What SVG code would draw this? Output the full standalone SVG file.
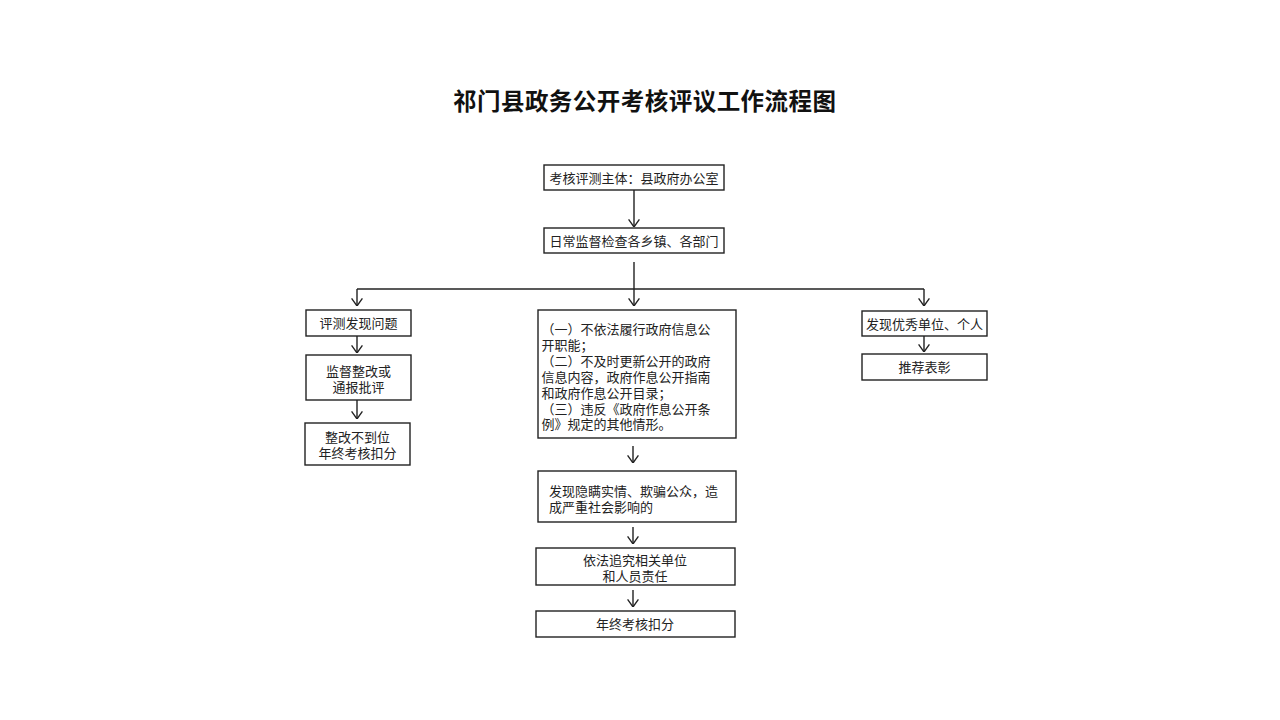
<svg xmlns="http://www.w3.org/2000/svg" width="1280" height="720" viewBox="0 0 1280 720">
<defs>
<style>
.box{fill:#fff;stroke:#222;stroke-width:1.4}
.t{font-family:"Liberation Serif","Noto Sans CJK SC",sans-serif;font-size:13px;fill:#222}
.c{text-anchor:middle}
.ln{fill:none;stroke:#222;stroke-width:1.4}
.title{font-family:"Liberation Serif","Noto Sans CJK SC",sans-serif;font-size:23.5px;font-weight:bold;fill:#111}
</style>
<marker id="ah" viewBox="0 0 10 14" refX="9.5" refY="7" markerWidth="9" markerHeight="13" markerUnits="userSpaceOnUse" orient="auto">
<path d="M1,1 L9.5,7 L1,13" fill="none" stroke="#222" stroke-width="1.5"/>
</marker>
</defs>
<rect width="1280" height="720" fill="#fff"/>
<text class="title" x="453" y="109.5" textLength="383" lengthAdjust="spacing">祁门县政务公开考核评议工作流程图</text>

<g id="connectors">
<line class="ln" x1="634" y1="190" x2="634" y2="227" marker-end="url(#ah)"/>
<line class="ln" x1="634" y1="262" x2="634" y2="289"/>
<line class="ln" x1="357" y1="289" x2="924" y2="289"/>
<line class="ln" x1="357" y1="289" x2="357" y2="306" marker-end="url(#ah)"/>
<line class="ln" x1="634" y1="289" x2="634" y2="306" marker-end="url(#ah)"/>
<line class="ln" x1="924" y1="289" x2="924" y2="306" marker-end="url(#ah)"/>
<line class="ln" x1="357" y1="336" x2="357" y2="353" marker-end="url(#ah)"/>
<line class="ln" x1="357" y1="400" x2="357" y2="419" marker-end="url(#ah)"/>
<line class="ln" x1="633" y1="446" x2="633" y2="463" marker-end="url(#ah)"/>
<line class="ln" x1="633" y1="527" x2="633" y2="544" marker-end="url(#ah)"/>
<line class="ln" x1="633" y1="590" x2="633" y2="607" marker-end="url(#ah)"/>
<line class="ln" x1="924" y1="336" x2="924" y2="352" marker-end="url(#ah)"/>
</g>

<g id="n1"><rect class="box" x="544" y="165" width="180" height="25"/>
<text class="t c" x="634" y="182.5">考核评测主体：县政府办公室</text></g>

<g id="n2"><rect class="box" x="544" y="228" width="180" height="25"/>
<text class="t c" x="634" y="245.5">日常监督检查各乡镇、各部门</text></g>

<g id="l1"><rect class="box" x="306" y="310" width="105" height="26"/>
<text class="t c" x="358.5" y="328">评测发现问题</text></g>

<g id="l2"><rect class="box" x="306" y="355" width="105" height="45"/>
<text class="t c" x="358.5" y="376">监督整改或</text>
<text class="t c" x="358.5" y="392">通报批评</text></g>

<g id="l3"><rect class="box" x="305" y="423" width="105" height="42"/>
<text class="t c" x="357.5" y="442">整改不到位</text>
<text class="t c" x="357.5" y="458">年终考核扣分</text></g>

<g id="m1"><rect class="box" x="538" y="310" width="198" height="128"/>
<text class="t" x="541.5" y="334">（一）不依法履行政府信息公</text>
<text class="t" x="541.5" y="350">开职能；</text>
<text class="t" x="541.5" y="366">（二）不及时更新公开的政府</text>
<text class="t" x="541.5" y="382">信息内容，政府作息公开指南</text>
<text class="t" x="541.5" y="397.5">和政府作息公开目录；</text>
<text class="t" x="541.5" y="413.5">（三）违反《政府作息公开条</text>
<text class="t" x="541.5" y="429">例》规定的其他情形。</text></g>

<g id="m2"><rect class="box" x="538" y="471" width="198" height="51"/>
<text class="t" x="549" y="495.5">发现隐瞒实情、欺骗公众，造</text>
<text class="t" x="549" y="511.5">成严重社会影响的</text></g>

<g id="m3"><rect class="box" x="536" y="548" width="199" height="37"/>
<text class="t c" x="635" y="564.5">依法追究相关单位</text>
<text class="t c" x="635" y="580.5">和人员责任</text></g>

<g id="m4"><rect class="box" x="536" y="611" width="199" height="26"/>
<text class="t c" x="635" y="628.5">年终考核扣分</text></g>

<g id="r1"><rect class="box" x="862" y="311" width="125" height="25"/>
<text class="t c" x="924.5" y="328.5">发现优秀单位、个人</text></g>

<g id="r2"><rect class="box" x="862" y="354" width="125" height="26"/>
<text class="t c" x="924.5" y="371.5">推荐表彰</text></g>
</svg>
